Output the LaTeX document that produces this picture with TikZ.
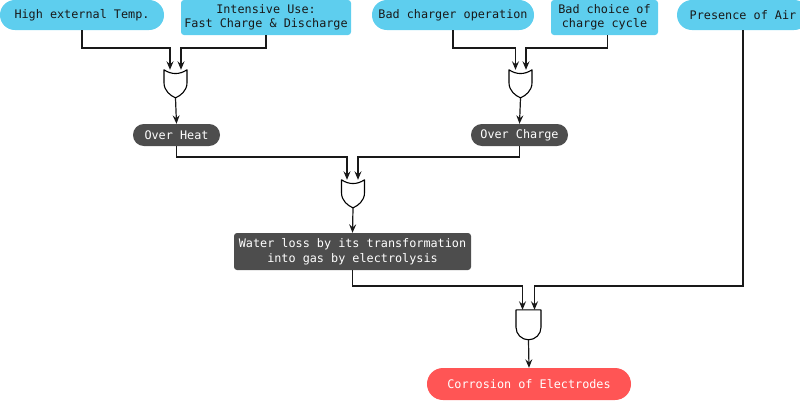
\documentclass[tikz,border=0pt]{standalone}
\usepackage{fontspec}
\setmonofont{DejaVu Sans Mono}
\usetikzlibrary{arrows.meta}
\definecolor{cyanbox}{RGB}{94,206,238}
\definecolor{darkbox}{RGB}{77,77,77}
\definecolor{redbox}{RGB}{255,85,85}
\definecolor{txt}{RGB}{25,25,25}
\tikzset{
  base/.style={inner sep=0pt, align=center, text=txt},
  pill/.style={base, fill=cyanbox, rounded corners=14.9pt, minimum height=30pt},
  cbox/.style={base, fill=cyanbox, rounded corners=3pt, minimum height=35pt},
  dpill/.style={base, fill=darkbox, text=white, rounded corners=10.9pt, minimum height=22pt},
  dbox/.style={base, fill=darkbox, text=white, rounded corners=3pt, minimum height=37pt},
  rpill/.style={base, fill=redbox, text=white, rounded corners=15.9pt, minimum height=32pt},
  gatebox/.style={inner sep=0pt, minimum width=24pt, minimum height=28pt},
  gateline/.style={draw=black, line width=1.1pt, fill=white, line join=round},
  arr/.style={draw=black!90, line width=1.2pt, -{Stealth[length=8.5pt,width=7pt,inset=3pt]}},
}
\begin{document}
\begin{tikzpicture}[x=1pt,y=-1pt, font=\ttfamily\fontsize{11.8}{14.5}\selectfont]
\useasboundingbox (0,0) rectangle (800,400);
\clip (0,0) rectangle (800,400);
% source nodes
\node[pill, minimum width=164pt] (n1) at (82,15) {High external Temp.};
\node[cbox, minimum width=170pt] (n2) at (266,17.5) {Intensive Use:\\Fast Charge \& Discharge};
\node[pill, minimum width=162pt] (n3) at (453,15) {Bad charger operation};
\node[cbox, minimum width=107pt] (n4) at (604.5,17.5) {Bad choice of\\charge cycle};
\node[pill, minimum width=132pt] (n5) at (743,15) {Presence of Air};
% intermediate
\node[dpill, minimum width=87pt] (oh) at (176.5,135) {Over Heat};
\node[dpill, minimum width=97pt] (oc) at (519.5,135) {Over Charge};
\node[dbox, minimum width=237pt] (wl) at (352.5,251.5) {Water loss by its transformation\\into gas by electrolysis};
\node[rpill, minimum width=204pt] (co) at (529,384) {Corrosion of Electrodes};
% gates
\node[gatebox] (g1) at (175.5,84) {};
\node[gatebox] (g2) at (520.5,84) {};
\node[gatebox] (g3) at (353,194) {};
\node[gatebox, minimum height=30pt, minimum width=25pt] (g4) at (528.5,325) {};
\foreach \g in {g1,g2,g3}{
  \begin{scope}[shift={(\g.north)}]
    \draw[gateline] (-11.5,0) .. controls (-4,5) and (4,5) .. (11.5,0)
      -- (11.5,13) .. controls (11.5,21) and (5,26) .. (0,28)
      .. controls (-5,26) and (-11.5,21) .. (-11.5,13) -- cycle;
  \end{scope}
}
\begin{scope}[shift={(g4.north)}]
  \draw[gateline] (-12.5,0) -- (12.5,0) -- (12.5,17.5) arc (0:180:12.5) -- cycle;
\end{scope}
% routing levels
\coordinate (r1) at (0,48);
\coordinate (r2) at (0,157);
\coordinate (r3) at (0,286);
% connectors
\draw[arr] (n1.south) -- (n1.south |- r1) -| ([xshift=-5.5pt]g1.north);
\draw[arr] (n2.south) -- (n2.south |- r1) -| ([xshift=5.5pt]g1.north);
\draw[arr] (n3.south) -- (n3.south |- r1) -| ([xshift=-5pt]g2.north);
\draw[arr] ([xshift=3pt]n4.south) -- ([xshift=3pt]n4.south |- r1) -| ([xshift=5.5pt]g2.north);
\draw[arr] (g1.south) -- (oh.north);
\draw[arr] (g2.south) -- (oc.north);
\draw[arr] (oh.south) -- (oh.south |- r2) -| ([xshift=-6pt]g3.north);
\draw[arr] (oc.south) -- (oc.south |- r2) -| ([xshift=5pt]g3.north);
\draw[arr] (g3.south) -- (wl.north);
\draw[arr] (wl.south) -- (wl.south |- r3) -| ([xshift=-6pt]g4.north);
\draw[arr] (n5.south) -- (n5.south |- r3) -| ([xshift=6pt]g4.north);
\draw[arr] (g4.south) -- (co.north);
\end{tikzpicture}
\end{document}
